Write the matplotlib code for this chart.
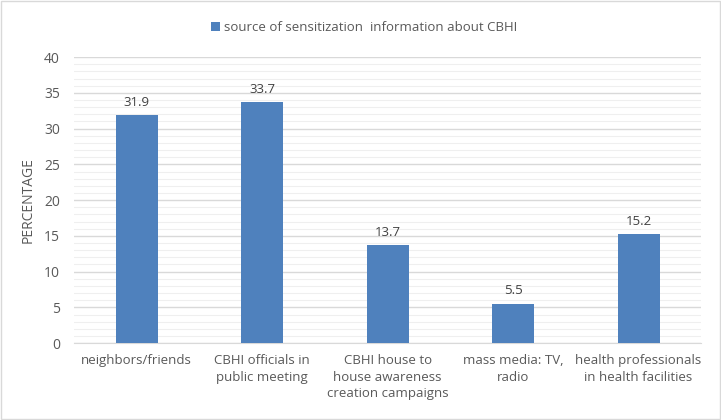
import matplotlib
matplotlib.use("Agg")
import matplotlib.pyplot as plt
import numpy as np
from matplotlib.patches import Rectangle

categories = [
    "neighbors/friends",
    "CBHI officials in\npublic meeting",
    "CBHI house to\nhouse awareness\ncreation campaigns",
    "mass media: TV,\nradio",
    "health professionals\nin health facilities",
]
values = [31.9, 33.7, 13.7, 5.5, 15.2]
series_name = "source of sensitization  information about CBHI"

TEXT = "#595959"
BAR = "#4f81bd"

plt.rcParams["font.family"] = ["Open Sans", "DejaVu Sans"]

fig = plt.figure(figsize=(7.21, 4.2), dpi=100)
ax = fig.add_axes([0.1026, 0.183, 0.870, 0.681])

x = np.arange(len(categories))
bars = ax.bar(x, values, width=0.335, color=BAR, zorder=3)
for b, v in zip(bars, values):
    ax.text(b.get_x() + b.get_width() / 2, v + 0.9, f"{v}", ha="center", va="bottom",
            fontsize=9.5, color="#404040")

ax.set_xlim(-0.5, len(categories) - 0.5)
ax.set_ylim(0, 40)
ax.set_yticks(np.arange(0, 41, 5))
ax.set_yticks(np.arange(0, 41, 1), minor=True)
ax.grid(axis="y", which="major", color="#d9d9d9", linewidth=1, zorder=0)
ax.grid(axis="y", which="minor", color="#efefef", linewidth=0.8, zorder=0)
ax.tick_params(axis="y", which="both", length=0, colors=TEXT, labelsize=10, pad=10)
ax.set_xticks(x)
ax.set_xticklabels(categories, fontsize=9.5, color=TEXT, linespacing=1.35, va="top")
ax.tick_params(axis="x", length=0, pad=8)
for s in ["top", "right", "left"]:
    ax.spines[s].set_visible(False)
ax.spines["bottom"].set_color("#d9d9d9")
ax.set_ylabel("PERCENTAGE", color=TEXT, fontsize=10, labelpad=6)

ax.legend([bars[0]], [series_name], loc="upper center", bbox_to_anchor=(0.505, 0.978),
          bbox_transform=fig.transFigure, frameon=False, fontsize=9.5,
          labelcolor=TEXT, handlelength=0.7, handleheight=0.7, handletextpad=0.3)

fig.patches.append(Rectangle((0.002, 0.003), 0.996, 0.994, transform=fig.transFigure,
                             fill=False, edgecolor="#d9d9d9", linewidth=1))

fig.savefig("out.png", dpi=100)
